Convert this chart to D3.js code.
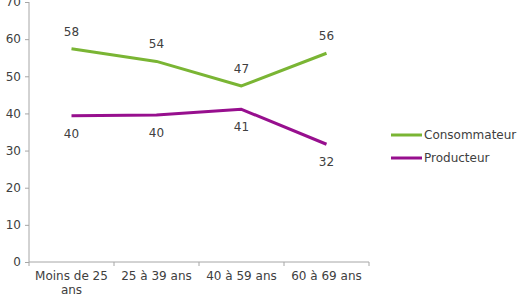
<!DOCTYPE html>
<meta charset="utf-8">
<script src="https://d3js.org/d3.v7.min.js"></script>
<style>
  body { margin: 0; background: #fff; }
  text { font-family: "DejaVu Sans", Verdana, sans-serif; font-size: 12px; fill: #404040; }
</style>
<div id="chart"></div>
<script>
  // data
  var categories = ["Moins de 25 ans", "25 à 39 ans", "40 à 59 ans", "60 à 69 ans"];
  var consommateur = [57.4, 54, 47.4, 56.2];
  var producteur = [39.4, 39.6, 41.1, 31.7];
  var consommateurLabels = [58, 54, 47, 56];
  var producteurLabels = [40, 40, 41, 32];
  var yTicks = [0, 10, 20, 30, 40, 50, 60, 70];

  var margin = {top: 2, left: 29},
      width = 340, height = 260;

  var svg = d3.select("#chart").append("svg")
      .attr("width", 528).attr("height", 297)
    .append("g")
      .attr("transform", "translate(" + margin.left + "," + margin.top + ")");

  var x = d3.scaleBand().domain(categories).range([0, width]);
  var y = d3.scaleLinear().domain([0, 70]).range([height, 0]);

  // y axis
  var yAxis = svg.append("g")
    .call(d3.axisLeft(y).tickValues(yTicks).tickSize(4).tickPadding(4));
  yAxis.selectAll("line, path").attr("stroke", "#a6a6a6");
  yAxis.select(".domain").attr("d", "M0," + height + "V0");
  yAxis.selectAll("text").style("font-size", "12px").attr("fill", "#404040")
    .style("font-family", "DejaVu Sans, Verdana, sans-serif");

  // x axis, ticks on band edges
  var xg = svg.append("g").attr("transform", "translate(0," + height + ")");
  xg.append("line").attr("x1", 0).attr("x2", width).attr("stroke", "#a6a6a6");
  var edges = d3.range(categories.length + 1).map(function(i) { return i * x.step(); });
  xg.selectAll(".tk").data(edges).enter().append("line")
    .attr("x1", function(d) { return d; }).attr("x2", function(d) { return d; })
    .attr("y1", 0).attr("y2", 4).attr("stroke", "#a6a6a6");

  var cats = xg.selectAll(".cat").data(categories).enter().append("text")
    .attr("text-anchor", "middle")
    .attr("x", function(d) { return x(d) + x.bandwidth() / 2; })
    .attr("y", 18);
  cats.each(function(d) {
    var t = d3.select(this);
    if (d === "Moins de 25 ans") {
      t.append("tspan").attr("x", t.attr("x")).text("Moins de 25");
      t.append("tspan").attr("x", t.attr("x")).attr("dy", 13.5).text("ans");
    } else {
      t.text(d);
    }
  });

  var series = [
    {name: "Consommateur", values: consommateur, labels: consommateurLabels, color: "#7ab534", dy: -13},
    {name: "Producteur", values: producteur, labels: producteurLabels, color: "#970f8e", dy: 22}
  ];

  var line = d3.line()
    .x(function(d, i) { return x(categories[i]) + x.bandwidth() / 2; })
    .y(function(d) { return y(d); });

  series.forEach(function(s) {
    svg.append("path")
      .datum(s.values)
      .attr("d", line)
      .attr("fill", "none")
      .attr("stroke", s.color)
      .attr("stroke-width", 3)
      .attr("stroke-linejoin", "round");

    svg.selectAll(".lbl-" + s.name).data(s.values).enter().append("text")
      .attr("text-anchor", "middle")
      .attr("x", function(d, i) { return x(categories[i]) + x.bandwidth() / 2; })
      .attr("y", function(d) { return y(d) + s.dy; })
      .text(function(d, i) { return s.labels[i]; });
  });

  // legend
  var legend = svg.append("g").attr("transform", "translate(362,133)");
  series.forEach(function(s, i) {
    var g = legend.append("g").attr("transform", "translate(0," + (i * 23) + ")");
    g.append("line").attr("x1", 0).attr("x2", 31).attr("stroke", s.color).attr("stroke-width", 3);
    g.append("text").attr("x", 33).attr("y", 4).text(s.name);
  });
</script>
